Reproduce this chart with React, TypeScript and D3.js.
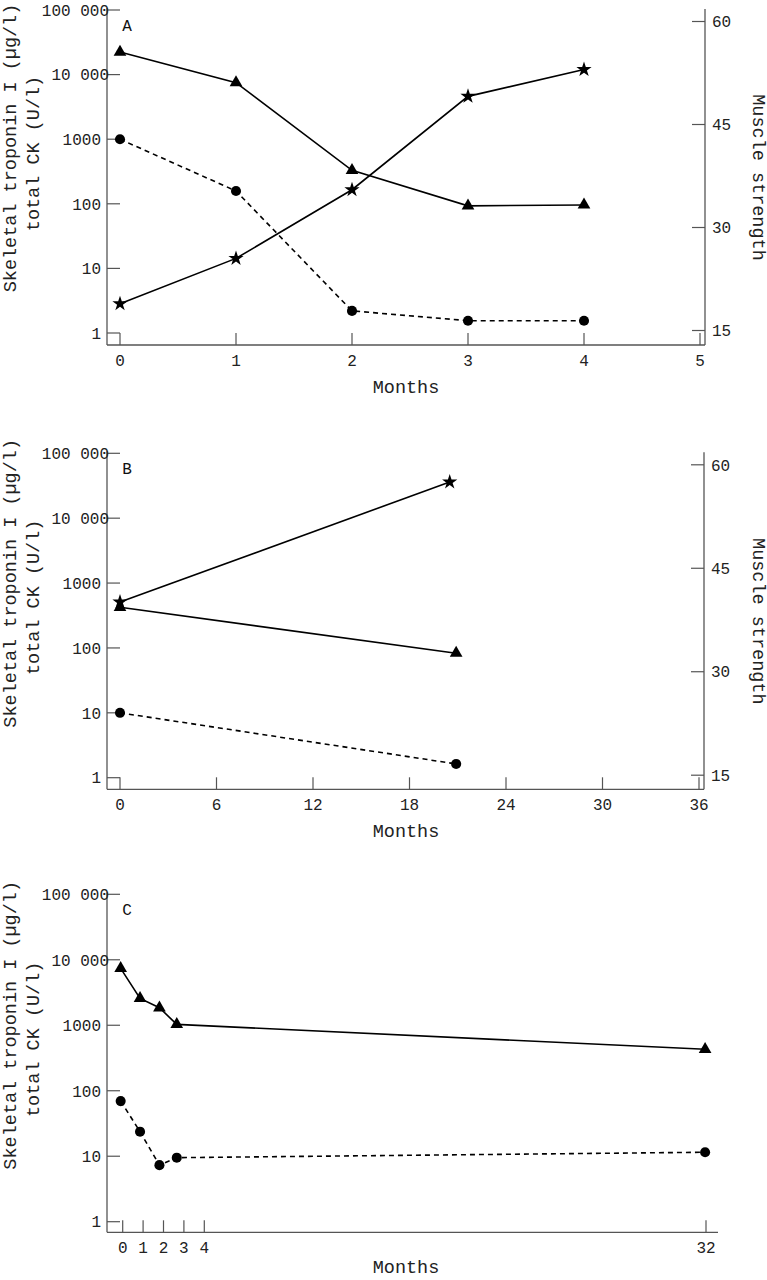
import React from 'react';
import * as d3 from 'd3';

// shared axis ticks
const yTicks = [1, 10, 100, 1000, 10000, 100000];
const yTickLabels = ['1', '10', '100', '1000', '10 000', '100 000'];
const strengthTicks = [15, 30, 45, 60];

// Panel A
const monthsA = [0, 1, 2, 3, 4];
const ckA = [22400, 7500, 330, 93, 96];
const troponinA = [1000, 158, 2.2, 1.55, 1.55];
const strengthA = [18.9, 25.5, 35.5, 49.1, 53.0];
const xTicksA = [0, 1, 2, 3, 4, 5];

// Panel B
const monthsB = [0, 20.9];
const monthsStrengthB = [0, 20.5];
const ckB = [423, 83];
const troponinB = [10, 1.63];
const strengthB = [40.1, 57.5];
const xTicksB = [0, 6, 12, 18, 24, 30, 36];

// Panel C
const monthsC = [-0.1, 0.85, 1.8, 2.65, 31.95];
const ckC = [7400, 2570, 1850, 1030, 430];
const troponinC = [69.5, 23.7, 7.3, 9.5, 11.5];
const xTicksC = [0, 1, 2, 3, 4, 32];

const FONT = "'Liberation Mono', 'DejaVu Sans Mono', 'Courier New', monospace";
const AXIS = '#555';

type Marker = 'triangle' | 'circle' | 'star';
interface Series {
  x: number[];
  y: number[];
  right?: boolean;
  marker: Marker;
  dashed?: boolean;
}

interface PanelProps {
  letter: string;
  top: number;
  oneY: number;
  bottom: number;
  axisRightX: number;
  x: d3.ScaleLinear<number, number>;
  xTicks: number[];
  rightAxis: boolean;
  series: Series[];
}

const symbols: Record<Marker, string> = {
  triangle: d3.symbol(d3.symbolTriangle, 70)() || '',
  circle: d3.symbol(d3.symbolCircle, 80)() || '',
  star: d3.symbol(d3.symbolStar, 72)() || '',
};

const Panel: React.FC<PanelProps> = ({ letter, top, oneY, bottom, axisRightX, x, xTicks, rightAxis, series }) => {
  const left = 107;
  const y = d3.scaleLog().domain([1, 100000]).range([oneY, top]);
  const yR = d3.scaleLinear().domain([15, 60]).range([oneY - 2.5, top + 11.5]);
  const mid = (top + bottom) / 2;

  return (
    <g>
      {/* axes lines */}
      <line x1={left} x2={left} y1={top - 2} y2={bottom} stroke={AXIS} strokeWidth={1.3} />
      <line x1={left} x2={axisRightX} y1={bottom} y2={bottom} stroke={AXIS} strokeWidth={1.3} />
      {rightAxis && <line x1={axisRightX} x2={axisRightX} y1={top - 1} y2={bottom} stroke={AXIS} strokeWidth={1.3} />}

      {/* left ticks */}
      {yTicks.map((t, i) => (
        <g key={'yl' + t}>
          <line x1={left} x2={left + 13} y1={y(t)} y2={y(t)} stroke={AXIS} strokeWidth={1.2} />
          <text x={t >= 10000 ? 109 : 101} y={y(t)} dy="0.36em" textAnchor="end" fontSize={16} fontFamily={FONT} fill="#222">
            {yTickLabels[i]}
          </text>
        </g>
      ))}

      {/* bottom ticks */}
      {xTicks.map(t => (
        <g key={'xt' + t}>
          <line x1={x(t)} x2={x(t)} y1={bottom} y2={bottom - 12} stroke={AXIS} strokeWidth={1.2} />
          <text x={x(t)} y={bottom + 21} textAnchor="middle" fontSize={16} fontFamily={FONT} fill="#222">{t}</text>
        </g>
      ))}

      {/* right ticks */}
      {rightAxis && strengthTicks.map(t => (
        <g key={'yr' + t}>
          <line x1={axisRightX - 13} x2={axisRightX} y1={yR(t)} y2={yR(t)} stroke={AXIS} strokeWidth={1.2} />
          <text x={axisRightX + 7} y={yR(t)} dy="0.36em" fontSize={16} fontFamily={FONT} fill="#222">{t}</text>
        </g>
      ))}

      {/* titles */}
      <text transform={`translate(16,${Math.max(mid - 38, 148)}) rotate(-90)`} textAnchor="middle" fontSize={18.5} fontFamily={FONT} fill="#222">
        Skeletal troponin I (µg/l)
      </text>
      <text transform={`translate(39,${mid - 24}) rotate(-90)`} textAnchor="middle" fontSize={18.5} fontFamily={FONT} fill="#222">
        total CK (U/l)
      </text>
      {rightAxis && (
        <text transform={`translate(753,${mid}) rotate(90)`} textAnchor="middle" fontSize={18.5} fontFamily={FONT} fill="#222">
          Muscle strength
        </text>
      )}
      <text x={406} y={Math.min(bottom + 48, 1273)} textAnchor="middle" fontSize={18.5} fontFamily={FONT} fill="#222">Months</text>
      <text x={127} y={top + 21} textAnchor="middle" fontSize={16} fontFamily={FONT} fill="#111">{letter}</text>

      {/* data */}
      {series.map((s, si) => {
        const ys = s.right ? yR : y;
        const pts = s.x.map((v, i) => [x(v), ys(s.y[i])] as [number, number]);
        const path = d3.line()(pts) || '';
        return (
          <g key={'s' + si}>
            <path d={path} fill="none" stroke="#000" strokeWidth={1.6} strokeDasharray={s.dashed ? '5,4' : undefined} />
            {pts.map((p, i) => (
              <path key={i} d={symbols[s.marker]} transform={`translate(${p[0]},${p[1]})`} fill="#000" />
            ))}
          </g>
        );
      })}
    </g>
  );
};

export default function App() {
  const xA = d3.scaleLinear().domain([0, 5]).range([120, 700]);
  const xB = d3.scaleLinear().domain([0, 36]).range([120, 699]);
  const xC = d3.scaleLinear().domain([0, 4, 32]).range([122.7, 204.3, 706]);

  return (
    <svg width={767} height={1280} viewBox="0 0 767 1280" style={{ position: 'absolute', left: 0, top: 0, background: '#fff' }}>
      <rect width={767} height={1280} fill="#fff" />
      <Panel
        letter="A" top={10} oneY={333} bottom={345} axisRightX={705} x={xA} xTicks={xTicksA} rightAxis
        series={[
          { x: monthsA, y: ckA, marker: 'triangle' },
          { x: monthsA, y: troponinA, marker: 'circle', dashed: true },
          { x: monthsA, y: strengthA, marker: 'star', right: true },
        ]}
      />
      <Panel
        letter="B" top={453.3} oneY={777.7} bottom={789.3} axisRightX={704} x={xB} xTicks={xTicksB} rightAxis
        series={[
          { x: monthsB, y: ckB, marker: 'triangle' },
          { x: monthsB, y: troponinB, marker: 'circle', dashed: true },
          { x: monthsStrengthB, y: strengthB, marker: 'star', right: true },
        ]}
      />
      <Panel
        letter="C" top={894.3} oneY={1221.7} bottom={1232.3} axisRightX={718} x={xC} xTicks={xTicksC} rightAxis={false}
        series={[
          { x: monthsC, y: ckC, marker: 'triangle' },
          { x: monthsC, y: troponinC, marker: 'circle', dashed: true },
        ]}
      />
    </svg>
  );
}
